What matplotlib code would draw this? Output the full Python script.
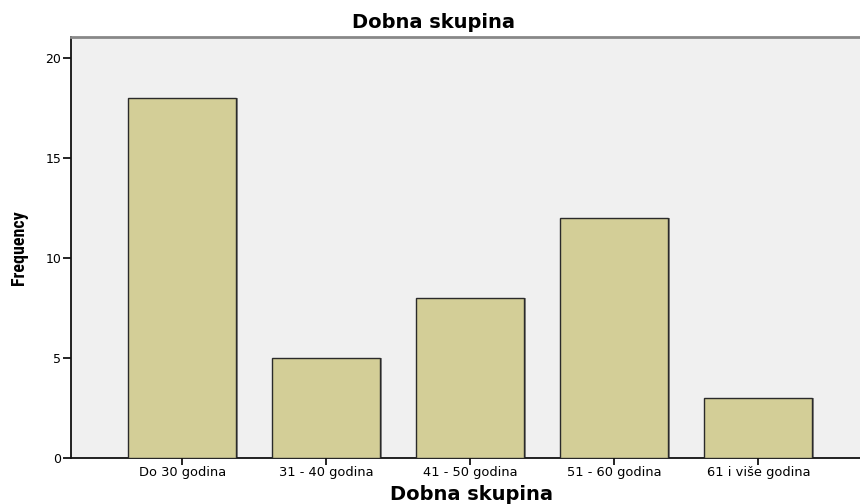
import matplotlib
matplotlib.use("Agg")
import matplotlib.pyplot as plt
from matplotlib import font_manager

categories = ["Do 30 godina", "31 - 40 godina", "41 - 50 godina", "51 - 60 godina", "61 i više godina"]
values = [18, 5, 8, 12, 3]
yticks = [0, 5, 10, 15, 20]

plt.rcParams['font.family'] = ['DejaVu Sans']

names = {f.name for f in font_manager.fontManager.ttflist}
narrow = None
for cand in ['Liberation Sans Narrow', 'DejaVu Sans Condensed', 'Roboto Condensed']:
    if cand in names:
        narrow = cand
        break

fig = plt.figure(figsize=(8.6, 5.04), dpi=100)
ax = fig.add_axes([0.0826, 0.0919, 0.9174, 0.8337])
ax.set_facecolor('#F0F0F0')

x = list(range(len(categories)))
ax.bar([i + 0.012 for i in x], values, width=0.75, color='#8c8c8c', zorder=2, linewidth=0)
ax.bar(x, values, width=0.75, color='#D3CE97', edgecolor='#2a2a2a', linewidth=1.0, zorder=3)

ax.set_xlim(-0.774, 4.705)
ax.set_ylim(0, 21.05)
ax.set_yticks(yticks)
ax.set_xticks(x)
ax.set_xticklabels(categories, fontsize=9.4)
ax.tick_params(axis='y', labelsize=9, length=6, width=1.2, direction='out', pad=1)
ax.tick_params(axis='x', length=5, width=1.2, direction='out', pad=1)

for s in ['left', 'bottom']:
    ax.spines[s].set_color('#111111')
    ax.spines[s].set_linewidth(1.3)
ax.spines['top'].set_color('#888888')
ax.spines['top'].set_linewidth(2)
ax.spines['right'].set_visible(False)

fig.text(434 / 860, 1 - 23 / 504, "Dobna skupina", fontsize=14, fontweight='bold',
         ha='center', va='center')
ax.set_xlabel("Dobna skupina", fontsize=14, fontweight='bold')
ax.xaxis.set_label_coords((471 - 71) / 789, -0.087)
ax.xaxis.label.set_va('center')
yl_kwargs = dict(fontsize=13, fontweight='bold')
if narrow:
    yl_kwargs['family'] = [narrow, 'DejaVu Sans']
ax.set_ylabel("Frequency", **yl_kwargs)
ax.yaxis.set_label_coords(-0.055, 0.5)

fig.savefig("out.png", dpi=100)
